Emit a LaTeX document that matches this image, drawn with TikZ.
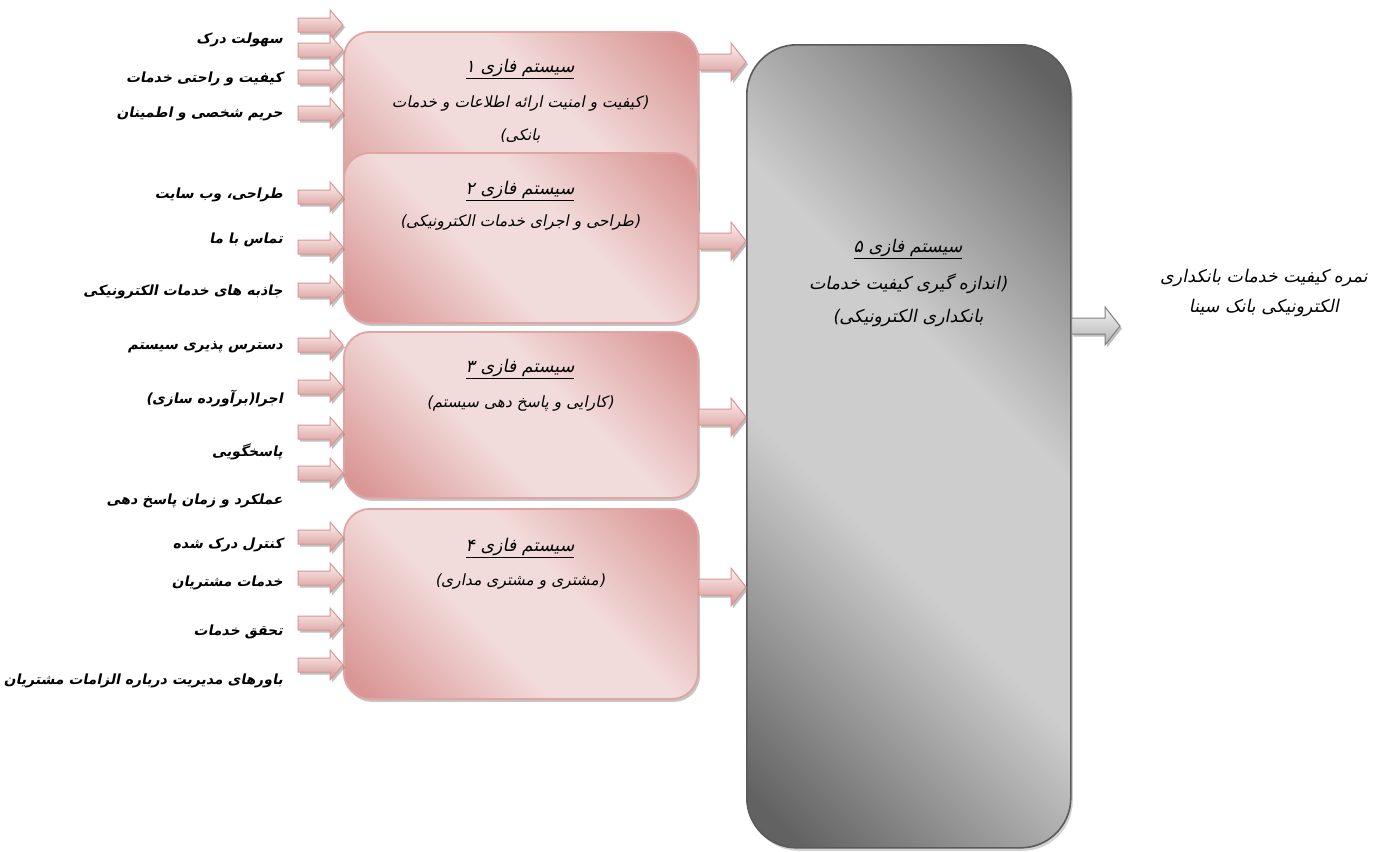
\documentclass[tikz,border=0pt]{standalone}
\usepackage{fontspec}
\usetikzlibrary{calc,shadows}
\TeXXeTstate=1
\newfontfamily\fa[Script=Arabic,FakeSlant=0.2]{DejaVu Sans}
\newfontfamily\fab[Script=Arabic,FakeSlant=0.2]{DejaVu Sans Bold}
\definecolor{pdark}{HTML}{D99694}
\definecolor{plight}{HTML}{F2DCDB}
\definecolor{pborder}{HTML}{E0A4A3}
\definecolor{gdark}{HTML}{626262}
\definecolor{glight}{HTML}{CDCDCD}
\definecolor{gborder}{HTML}{5A5A5A}
\pgfdeclarehorizontalshading{pinkdiag}{100bp}{color(0bp)=(pdark); color(18bp)=(pdark); color(42bp)=(plight); color(58bp)=(plight); color(82bp)=(pdark); color(100bp)=(pdark)}
\pgfdeclarehorizontalshading{graydiag}{100bp}{color(0bp)=(gdark); color(18bp)=(gdark); color(42bp)=(glight); color(58bp)=(glight); color(82bp)=(gdark); color(100bp)=(gdark)}
\newcommand\blkarrow[6]{\draw[#6] ($(#1)+(0,#3)$) -- ($(#2)+(-#5,#3)$) -- ($(#2)+(-#5,#4)$) -- (#2) -- ($(#2)+(-#5,-#4)$) -- ($(#2)+(-#5,-#3)$) -- ($(#1)+(0,-#3)$) -- cycle;}
\tikzset{
  pbox/.style={draw=pborder, line width=1.8bp, rounded corners=26bp, shade, shading=pinkdiag, shading angle=45,
    drop shadow={shadow xshift=2bp, shadow yshift=-3bp, opacity=.45, fill=gray},
    minimum width=354bp, anchor=north west, inner sep=0},
  gbox/.style={draw=gborder, line width=1.6bp, rounded corners=50bp, shade, shading=graydiag, shading angle=45,
    drop shadow={shadow xshift=2bp, shadow yshift=-3bp, opacity=.35, fill=gray},
    minimum width=324bp, minimum height=803bp, anchor=north west, inner sep=0},
  inarrow/.style={draw=pdark, line width=1bp, top color=plight!40, bottom color=pdark,
    drop shadow={shadow xshift=2bp, shadow yshift=-2.5bp, opacity=.5, fill=gray}},
  garrow/.style={draw=gray, line width=1bp, top color=gray!10, bottom color=gray!60,
    drop shadow={shadow xshift=2bp, shadow yshift=-2.5bp, opacity=.5, fill=gray}},
  lab/.style={anchor=east, font=\fab\fontsize{14bp}{16bp}\selectfont, inner sep=0},
  ttl/.style={font=\fa\fontsize{17.5bp}{20bp}\selectfont, inner sep=0},
  sub/.style={font=\fa\fontsize{15.5bp}{33bp}\selectfont, align=center, inner sep=0},
  bigsub/.style={font=\fa\fontsize{17.5bp}{33bp}\selectfont, align=center, inner sep=0},
}
\begin{document}
\begin{tikzpicture}[x=1bp,y=-1bp]
\fill[white] (0,0) rectangle (1381,851);
\useasboundingbox (0,0) rectangle (1381,851);
% phase boxes
\node[pbox, minimum height=200bp] (b1) at (343,31) {};
\node[pbox, minimum height=170bp] (b2) at (343,152) {};
\node[pbox, minimum height=166bp] (b3) at (343,331) {};
\node[pbox, minimum height=190bp] (b4) at (343,508) {};
\node[gbox] (b5) at (746,44) {};
% box texts
\node[ttl] (t1) at (520,69) {\underline{\beginR سیستم فازی ۱\endR}};
\node[sub] (s1) at (520,119) {\beginR (کیفیت و امنیت ارائه اطلاعات و خدمات\endR\\\beginR بانکی)\endR};
\node[ttl] (t2) at (520,191) {\underline{\beginR سیستم فازی ۲\endR}};
\node[sub] (s2) at (520,223) {\beginR (طراحی و اجرای خدمات الکترونیکی)\endR};
\node[ttl] (t3) at (520,369) {\underline{\beginR سیستم فازی ۳\endR}};
\node[sub] (s3) at (520,403) {\beginR (کارایی و پاسخ دهی سیستم)\endR};
\node[ttl] (t4) at (520,548) {\underline{\beginR سیستم فازی ۴\endR}};
\node[sub] (s4) at (520,581) {\beginR (مشتری و مشتری مداری)\endR};
\node[ttl] (t5) at (908,249) {\underline{\beginR سیستم فازی ۵\endR}};
\node[bigsub] (s5) at (908,300) {\beginR (اندازه گیری کیفیت خدمات\endR\\\beginR بانکداری الکترونیکی)\endR};
\node[bigsub, font=\fa\fontsize{17.5bp}{30bp}\selectfont] (res) at (1264,293) {\beginR نمره کیفیت خدمات بانکداری\endR\\\beginR الکترونیکی بانک سینا\endR};
% input labels
\node[lab] (l1) at (283,40) {\beginR سهولت درک\endR};
\node[lab] (l2) at (283,79) {\beginR کیفیت و راحتی خدمات\endR};
\node[lab] (l3) at (283,114) {\beginR حریم شخصی و اطمینان\endR};
\node[lab] (l4) at (283,195) {\beginR طراحی، وب سایت\endR};
\node[lab] (l5) at (283,240) {\beginR تماس با ما\endR};
\node[lab] (l6) at (283,292) {\beginR جاذبه های خدمات الکترونیکی\endR};
\node[lab] (l7) at (283,347) {\beginR دسترس پذیری سیستم\endR};
\node[lab] (l8) at (283,399) {\beginR اجرا(برآورده سازی)\endR};
\node[lab] (l9) at (283,452) {\beginR پاسخگویی\endR};
\node[lab] (l10) at (283,501) {\beginR عملکرد و زمان پاسخ دهی\endR};
\node[lab] (l11) at (283,545) {\beginR کنترل درک شده\endR};
\node[lab] (l12) at (283,583) {\beginR خدمات مشتریان\endR};
\node[lab] (l13) at (283,632) {\beginR تحقق خدمات\endR};
\node[lab] (l14) at (283,681) {\beginR باورهای مدیریت درباره الزامات مشتریان\endR};
% input arrows
\foreach \yy [count=\i] in {25,50,77,113} {\coordinate (ia\i) at (298,\yy); \blkarrow{ia\i}{b1.west |- ia\i}{7}{15}{13}{inarrow}}
\foreach \yy [count=\i] in {197,247,290} {\coordinate (ib\i) at (298,\yy); \blkarrow{ib\i}{b2.west |- ib\i}{7}{15}{13}{inarrow}}
\foreach \yy [count=\i] in {345,387,432,473} {\coordinate (ic\i) at (298,\yy); \blkarrow{ic\i}{b3.west |- ic\i}{7}{15}{13}{inarrow}}
\foreach \yy [count=\i] in {537,578,623,665} {\coordinate (id\i) at (298,\yy); \blkarrow{id\i}{b4.west |- id\i}{7}{15}{13}{inarrow}}
% output arrows
\coordinate (o1) at (720,62);
\coordinate (o2) at (720,241);
\coordinate (o3) at (720,417);
\coordinate (o4) at (720,587);
\blkarrow{b1.east |- o1}{b5.west |- o1}{8}{19}{15}{inarrow}
\blkarrow{b2.east |- o2}{b5.west |- o2}{8}{19}{15}{inarrow}
\blkarrow{b3.east |- o3}{b5.west |- o3}{8}{19}{15}{inarrow}
\blkarrow{b4.east |- o4}{b5.west |- o4}{8}{19}{15}{inarrow}
\coordinate (fo) at (1120,326);
\blkarrow{b5.east |- fo}{fo}{8}{19}{15}{garrow}
\end{tikzpicture}
\end{document}
